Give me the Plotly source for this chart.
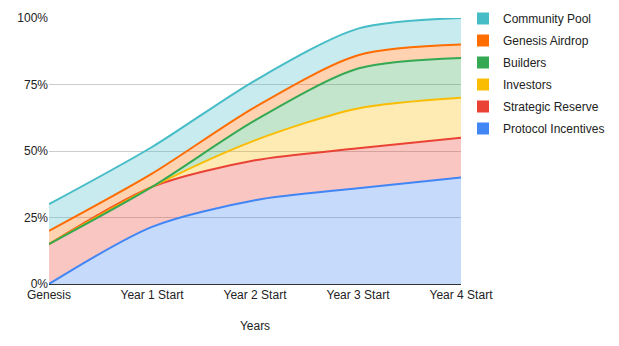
import plotly.graph_objects as go

categories = ["Genesis", "Year 1 Start", "Year 2 Start", "Year 3 Start", "Year 4 Start"]
series_names = ["Protocol Incentives", "Strategic Reserve", "Investors", "Builders",
                "Genesis Airdrop", "Community Pool"]
protocol_incentives = [0, 21.5, 31.5, 36, 40]
strategic_reserve = [15, 15, 15, 15, 15]
investors = [0, 0, 7.5, 15, 15]
builders = [0, 0, 7.5, 15, 15]
genesis_airdrop = [5, 5, 5, 5, 5]
community_pool = [10, 10, 10, 10, 10]
y_ticks = [0, 25, 50, 75, 100]

values = [protocol_incentives, strategic_reserve, investors, builders, genesis_airdrop, community_pool]
line_colors = ["#4285F4", "#EA4335", "#FBBC04", "#34A853", "#FF6D01", "#46BDC6"]
fill_colors = ["rgba(66,133,244,0.3)", "rgba(234,67,53,0.3)", "rgba(251,188,4,0.3)",
               "rgba(52,168,83,0.3)", "rgba(255,109,1,0.3)", "rgba(70,189,198,0.3)"]

fig = go.Figure()
for name, vals, lc, fc in zip(series_names, values, line_colors, fill_colors):
    fig.add_trace(go.Scatter(
        x=categories, y=vals, name=name, stackgroup="one", mode="lines",
        line=dict(color=lc, width=2, shape="spline", smoothing=0.8),
        fillcolor=fc, showlegend=False,
    ))

# Legend entries (square swatches), top to bottom
for name, lc in reversed(list(zip(series_names, line_colors))):
    fig.add_trace(go.Scatter(
        x=[None], y=[None], mode="markers", name=name, legendgroup=name,
        marker=dict(symbol="square", size=12, color=lc),
    ))

font = "Liberation Sans, Arial, sans-serif"
fig.update_layout(
    width=619, height=346,
    margin=dict(l=49, r=158, t=18, b=62, autoexpand=False),
    paper_bgcolor="white", plot_bgcolor="white",
    font=dict(family=font, size=12, color="#222222"),
    showlegend=True,
    legend=dict(
        xref="container", yref="container", x=463 / 619, y=1 - 4 / 346,
        xanchor="left", yanchor="top", traceorder="grouped", tracegroupgap=3,
        font=dict(family=font, size=12, color="#222222"),
        bgcolor="rgba(0,0,0,0)",
    ),
    xaxis=dict(
        type="category", range=[0, 4], showgrid=False, zeroline=False,
        showline=True, linecolor="#333333", linewidth=1, ticks="",
        title=dict(text="Years", standoff=20, font=dict(size=12)),
        tickfont=dict(size=12),
    ),
    yaxis=dict(
        range=[0, 100], tickvals=y_ticks, ticktext=[f"{v}%" for v in y_ticks],
        showgrid=True, gridcolor="#cccccc", gridwidth=1, zeroline=False,
        showline=False, ticks="", tickfont=dict(size=12),
    ),
)

fig.write_html("out.html")
